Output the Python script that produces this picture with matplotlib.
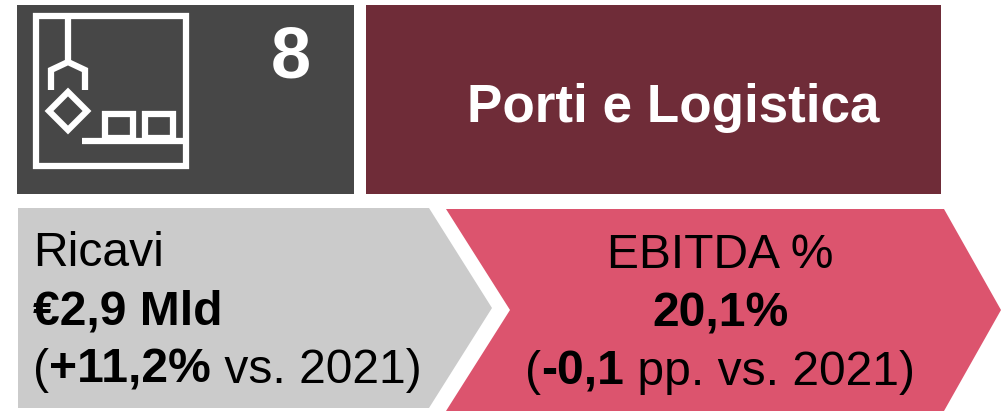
import matplotlib.pyplot as plt
from matplotlib.patches import Polygon, Rectangle

plt.rcParams['font.family'] = ['Liberation Sans', 'DejaVu Sans']

NUMBER = "8"
TITLE = "Porti e Logistica"
LEFT_LINES = [
    [("Ricavi", "normal")],
    [("€2,9 Mld", "bold")],
    [("(", "normal"), ("+11,2%", "bold"), (" vs. 2021)", "normal")],
]
RIGHT_LINES = [
    [("EBITDA %", "normal")],
    [("20,1%", "bold")],
    [("(", "normal"), ("-0,1", "bold"), (" pp. vs. 2021)", "normal")],
]

DARK = "#474747"
MAROON = "#6F2C38"
GREY = "#CBCBCB"
PINK = "#DC546E"
WHITE = "white"
BODY_SIZE = 34.6

fig = plt.figure(figsize=(10.01, 4.17), dpi=100)
ax = fig.add_axes([0, 0, 1, 1])
# axes run in image pixels, y going down
ax.set_xlim(0, 1001)
ax.set_ylim(417, 0)
ax.axis("off")


def draw_line(segments, x, y, align="left"):
    """Draws one line made of normal and bold runs next to each other."""
    renderer = fig.canvas.get_renderer()
    items = []
    for txt, weight in segments:
        t = ax.text(0, y, txt, fontsize=BODY_SIZE, fontweight=weight, color="black", va="baseline", ha="left")
        items.append((t, t.get_window_extent(renderer).width))
    pos = x
    if align == "center":
        pos = x - sum(w for _, w in items) / 2
    for t, width in items:
        t.set_x(pos)
        pos += width


# panels
ax.add_patch(Rectangle((17, 5), 337, 189, color=DARK, lw=0))
ax.add_patch(Rectangle((366, 5), 575, 189, color=MAROON, lw=0))
ax.add_patch(Polygon([(18, 208), (429, 208), (492, 308), (429, 408), (18, 408)], color=GREY, lw=0))
ax.add_patch(Polygon([(446, 209), (944, 209), (1001, 310), (944, 411), (446, 411), (510, 310)], color=PINK, lw=0))

# icon
LW = 4.5
ax.add_patch(Rectangle((36, 16), 150, 150, fill=False, ec=WHITE, lw=LW, joinstyle="miter"))
ax.plot([68, 68], [13, 62], color=WHITE, lw=LW, solid_capstyle="butt")
ax.plot([51, 51, 68, 85, 85], [90, 70, 62, 70, 90], color=WHITE, lw=LW, solid_capstyle="butt", solid_joinstyle="miter")
ax.add_patch(Polygon([(68, 92), (87, 111), (68, 130), (49, 111)], fill=False, ec=WHITE, lw=LW, joinstyle="miter"))
ax.add_patch(Rectangle((105, 114), 28, 24, fill=False, ec=WHITE, lw=LW, joinstyle="miter"))
ax.add_patch(Rectangle((145, 114), 28, 24, fill=False, ec=WHITE, lw=LW, joinstyle="miter"))
ax.plot([82, 183], [141, 141], color=WHITE, lw=LW, solid_capstyle="butt")

ax.text(291, 77, NUMBER, color=WHITE, fontsize=52, fontweight="bold", ha="center", va="baseline")
ax.text(673.5, 122, TITLE, color=WHITE, fontsize=38.2, fontweight="bold", ha="center", va="baseline")

fig.canvas.draw()
for segs, y in zip(LEFT_LINES, [266, 325, 383]):
    draw_line(segs, 33, y)
for segs, y in zip(RIGHT_LINES, [268, 327, 385]):
    draw_line(segs, 720, y, align="center")

fig.savefig("out.png", dpi=100)
